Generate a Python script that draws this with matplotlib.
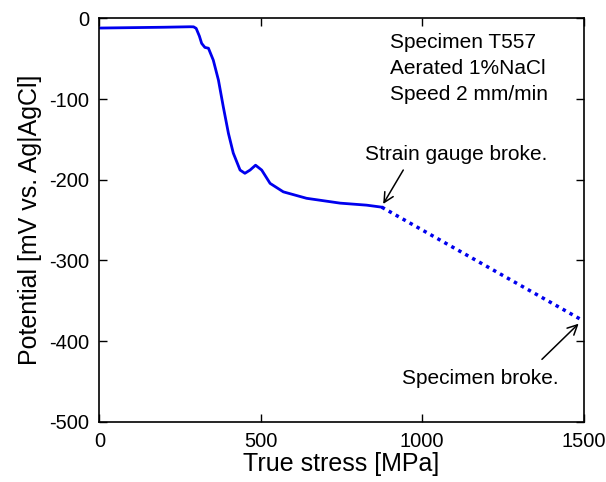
import matplotlib.pyplot as plt

plt.rcParams['font.family'] = ['Liberation Sans', 'DejaVu Sans']
plt.rcParams['axes.unicode_minus'] = False

# measured curve (solid) up to strain gauge failure
stress = [0, 100, 200, 281, 292, 300, 310, 317, 327, 338, 353, 369, 384, 400,
          415, 436, 451, 467, 484, 503, 529, 570, 642, 746, 828, 875]
potential = [-12, -11.5, -11, -10.4, -10.5, -12.4, -22, -31, -36, -37, -51.7,
             -76.5, -109.5, -142.6, -167, -188, -192, -188, -182, -188, -204.5,
             -215, -223, -229, -231.5, -234]

# extrapolated segment (dotted) up to specimen failure
stress_ext = [875, 1500]
potential_ext = [-234, -375]

x_ticks = [0, 500, 1000, 1500]
y_ticks = [0, -100, -200, -300, -400, -500]

fig = plt.figure(figsize=(6.06, 4.82), dpi=100)
ax = fig.add_axes([0.1639, 0.1249, 0.799, 0.837])

ax.plot(stress, potential, color='#0000ee', lw=2)
ax.plot(stress_ext, potential_ext, color='#0000ee', lw=2.5, ls=(0, (1, 1.3)))

ax.set_xlim(0, 1500)
ax.set_ylim(-500, 0)
ax.set_xticks(x_ticks)
ax.set_yticks(y_ticks)
ax.tick_params(direction='in', top=True, right=True, length=6, width=1,
               labelsize=14.5)
ax.tick_params(axis='x', pad=7)
ax.tick_params(axis='y', pad=7.5)
for s in ax.spines.values():
    s.set_linewidth(1.2)

ax.set_xlabel('True stress [MPa]', fontsize=18, labelpad=1)
ax.set_ylabel('Potential [mV vs. Ag|AgCl]', fontsize=18, labelpad=5)

ax.text(900, -62, 'Specimen T557\nAerated 1%NaCl\nSpeed 2 mm/min',
        fontsize=15, ha='left', va='center', linespacing=1.45)

arrow = dict(arrowstyle='->,head_length=0.7,head_width=0.35', color='black', lw=1.1)
ax.annotate('', xy=(875, -233), xytext=(946, -185), arrowprops=arrow)
ax.text(1104, -169, 'Strain gauge broke.', fontsize=15, ha='center', va='center')
ax.annotate('', xy=(1491, -376), xytext=(1365, -425), arrowprops=arrow)
ax.text(1181, -446, 'Specimen broke.', fontsize=15, ha='center', va='center')

fig.savefig('out.png', dpi=100)
